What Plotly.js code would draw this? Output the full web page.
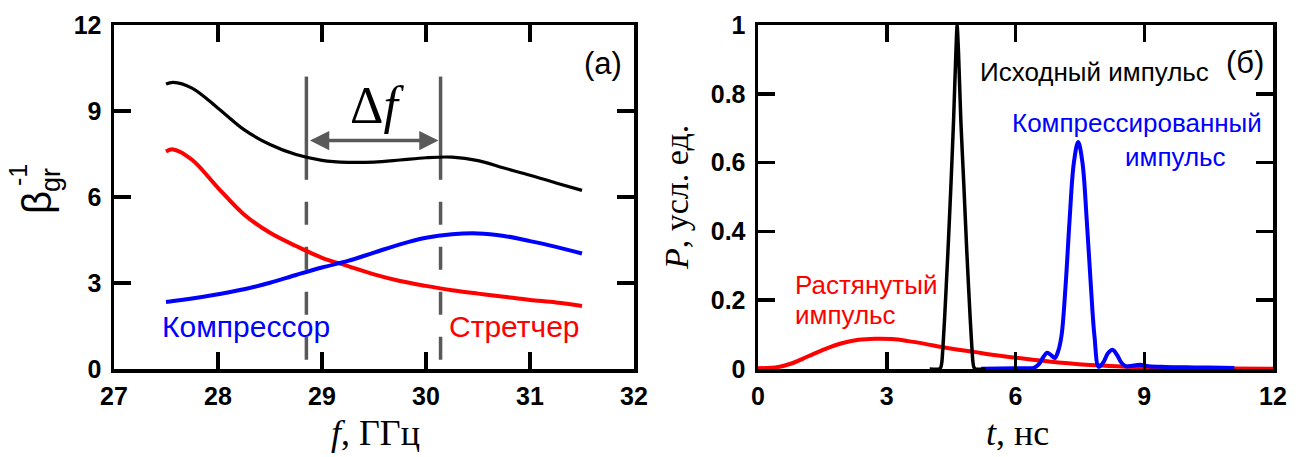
<!DOCTYPE html>
<html>
<head>
<meta charset="utf-8">
<script src="https://cdn.plot.ly/plotly-3.0.1.min.js"></script>
<style>html,body{margin:0;padding:0;background:#fff;}#chart{width:1310px;height:457px;}</style>
</head>
<body>
<div id="chart"></div>
<script>
// ---- Panel (a): inverse group velocity vs frequency ----
const freqGHz = [27.5, 27.57, 27.75, 28, 28.25, 28.5, 28.75, 29, 29.25, 29.5, 29.75, 30, 30.25, 30.5, 30.75, 31, 31.25, 31.5];
const betaTotal = [9.94, 10.0, 9.8, 9.1, 8.35, 7.83, 7.48, 7.28, 7.21, 7.22, 7.29, 7.37, 7.39, 7.27, 7.01, 6.76, 6.49, 6.23];
const betaStretcher = [7.59, 7.66, 7.3, 6.32, 5.39, 4.75, 4.29, 3.88, 3.59, 3.30, 3.07, 2.90, 2.75, 2.63, 2.52, 2.41, 2.32, 2.2];
const betaCompressor = [2.34, 2.37, 2.46, 2.61, 2.78, 3.01, 3.28, 3.54, 3.77, 4.06, 4.35, 4.58, 4.70, 4.73, 4.64, 4.46, 4.26, 4.03];
const bandEdges = [28.85, 30.14];          // Δf band edges, GHz
const bandSolidY = [10.2, 6.6];
const bandDashY = [5.83, 0.3];
const bandArrowY = 7.97;
const xTicksA = [27, 28, 29, 30, 31, 32];
const yTicksA = [0, 3, 6, 9, 12];

// ---- Panel (б): pulses vs time ----
const tStretched = [0, 0.47, 0.78, 1.17, 1.56, 1.95, 2.34, 2.73, 3.12, 3.5, 3.89, 4.28, 4.67, 5.06, 5.37, 6, 7, 8, 9, 10, 11, 12];
const pStretched = [0.002, 0.006, 0.016, 0.037, 0.058, 0.075, 0.085, 0.088, 0.087, 0.081, 0.073, 0.064, 0.056, 0.049, 0.043, 0.033, 0.019, 0.010, 0.005, 0.003, 0.0015, 0.0005];
const tInitial = [4.0, 4.22, 4.26, 4.284, 4.346, 4.424, 4.494, 4.556, 4.61, 4.64, 4.673, 4.727, 4.798, 4.867, 4.946, 5.008, 5.03, 5.07, 5.3];
const pInitial = [0, 0, 0.005, 0.02, 0.143, 0.337, 0.53, 0.72, 0.917, 1.0, 0.917, 0.72, 0.53, 0.337, 0.143, 0.02, 0.005, 0, 0];
const tCompressed = [5.2, 6.0, 6.3, 6.425, 6.55, 6.65, 6.737, 6.83, 6.916, 6.99, 7.07, 7.166, 7.26, 7.36, 7.46, 7.56, 7.66, 7.757, 7.84, 7.94, 8.05, 8.15, 8.26, 8.37, 8.47, 8.57, 8.75, 8.9, 9.1, 9.5, 10, 10.5, 11.1];
const pCompressed = [0.001, 0.002, 0.002, 0.003, 0.015, 0.035, 0.047, 0.04, 0.032, 0.05, 0.095, 0.24, 0.433, 0.6, 0.66, 0.6, 0.433, 0.24, 0.095, 0.006, 0.02, 0.045, 0.056, 0.04, 0.018, 0.008, 0.01, 0.012, 0.008, 0.006, 0.005, 0.004, 0.003];
const xTicksB = [0, 3, 6, 9, 12];
const yTicksB = [0, 0.2, 0.4, 0.6, 0.8, 1];
const yTickTextB = ['0', '0.2', '0.4', '0.6', '0.8', '1'];

const BLUE = '#0000ff', RED = '#ff0000', BLACK = '#000000', GREY = '#595959';
const sans = 'Liberation Sans, Arial, sans-serif';
const serif = 'Liberation Serif, Times New Roman, serif';
const bold = s => '<b>' + s + '</b>';

// band edge lines (solid upper part, dashed lower part)
const bandTraces = [];
bandEdges.forEach(fx => {
  bandTraces.push({x: [fx, fx], y: bandSolidY, xaxis: 'x', yaxis: 'y', mode: 'lines',
    line: {color: GREY, width: 3.5}, hoverinfo: 'skip', showlegend: false});
  bandTraces.push({x: [fx, fx], y: bandDashY, xaxis: 'x', yaxis: 'y', mode: 'lines',
    line: {color: GREY, width: 3.5, dash: '23px,22px'}, hoverinfo: 'skip', showlegend: false});
});

const data = [
  ...bandTraces,
  {x: freqGHz, y: betaTotal, xaxis: 'x', yaxis: 'y', mode: 'lines', line: {color: BLACK, width: 3.2, shape: 'spline'}, showlegend: false},
  {x: freqGHz, y: betaStretcher, xaxis: 'x', yaxis: 'y', mode: 'lines', line: {color: RED, width: 4, shape: 'spline'}, showlegend: false},
  {x: freqGHz, y: betaCompressor, xaxis: 'x', yaxis: 'y', mode: 'lines', line: {color: BLUE, width: 4, shape: 'spline'}, showlegend: false},
  {x: tStretched, y: pStretched, xaxis: 'x2', yaxis: 'y2', mode: 'lines', line: {color: RED, width: 4, shape: 'spline'}, showlegend: false},
  {x: tCompressed, y: pCompressed, xaxis: 'x2', yaxis: 'y2', mode: 'lines', line: {color: BLUE, width: 4, shape: 'spline'}, showlegend: false},
  {x: tInitial, y: pInitial, xaxis: 'x2', yaxis: 'y2', mode: 'lines', line: {color: BLACK, width: 3.5, shape: 'spline', smoothing: 0.6}, showlegend: false}
];

const tickFont = {family: sans, size: 25, color: '#000'};
const axisCommon = {
  showgrid: false, zeroline: false, showline: true, linecolor: '#000', linewidth: 3.5,
  mirror: 'allticks', ticks: 'inside', ticklen: 17, tickwidth: 3.5, tickcolor: '#000',
  tickfont: tickFont, fixedrange: true
};

const W = 1310, H = 457, L = 114, R = 37, T = 25, B = 88;
const PW = W - L - R, PH = H - T - B;
const px = v => (v - L) / PW;
const py = v => (H - B - v) / PH;

const layout = {
  width: W, height: H,
  margin: {l: L, r: R, t: T, b: B, pad: 0},
  paper_bgcolor: '#fff', plot_bgcolor: 'rgba(0,0,0,0)',
  showlegend: false,
  xaxis: Object.assign({}, axisCommon, {domain: [0, px(634)], range: [27, 32], tickvals: xTicksA, ticktext: xTicksA.map(v => bold(v)), anchor: 'y', ticklabelstandoff: 2}),
  yaxis: Object.assign({}, axisCommon, {domain: [0, 1], range: [0, 12], tickvals: yTicksA, ticktext: yTicksA.map(v => bold(v)), anchor: 'x', ticklabelstandoff: 4}),
  xaxis2: Object.assign({}, axisCommon, {domain: [px(758), 1], range: [0, 12], tickvals: xTicksB, ticktext: xTicksB.map(v => bold(v)), anchor: 'y2', ticklabelstandoff: 2}),
  yaxis2: Object.assign({}, axisCommon, {domain: [0, 1], range: [0, 1], tickvals: yTicksB, ticktext: yTickTextB.map(bold), anchor: 'x2', ticklabelstandoff: 4}),
  annotations: [
    // arrow across the band
    {xref: 'x', yref: 'y', axref: 'x', ayref: 'y', x: bandEdges[1] - 0.02, y: bandArrowY, ax: bandEdges[0] + 0.02, ay: bandArrowY,
     text: '', showarrow: true, arrowhead: 2, arrowside: 'end+start', arrowsize: 1.1, arrowwidth: 3.5, arrowcolor: GREY},
    {xref: 'x', yref: 'y', x: 29.53, y: 9.2, text: 'Δ<i>f</i>', showarrow: false, font: {family: serif, size: 52, color: '#000'}, xanchor: 'center', yanchor: 'middle'},
    {xref: 'x', yref: 'y', x: 27.44, y: 1.5, text: 'Компрессор', showarrow: false, font: {family: sans, size: 30, color: BLUE}, xanchor: 'left', yanchor: 'middle'},
    {xref: 'x', yref: 'y', x: 31.5, y: 1.5, text: 'Стретчер', showarrow: false, font: {family: sans, size: 30, color: RED}, xanchor: 'right', yanchor: 'middle'},
    {xref: 'x', yref: 'y', x: 31.9, y: 10.64, text: '(a)', showarrow: false, font: {family: sans, size: 31, color: '#000'}, xanchor: 'right', yanchor: 'middle'},
    // panel (б) labels
    {xref: 'x2', yref: 'y2', x: 5.13, y: 0.863, text: 'Исходный импульс', showarrow: false, font: {family: sans, size: 26, color: '#000'}, xanchor: 'left', yanchor: 'middle'},
    {xref: 'x2', yref: 'y2', x: 11.83, y: 0.89, text: '(б)', showarrow: false, font: {family: sans, size: 31, color: '#000'}, xanchor: 'right', yanchor: 'middle'},
    {xref: 'x2', yref: 'y2', x: 5.87, y: 0.715, text: 'Компрессированный', showarrow: false, font: {family: sans, size: 26, color: BLUE}, xanchor: 'left', yanchor: 'middle'},
    {xref: 'x2', yref: 'y2', x: 8.5, y: 0.616, text: 'импульс', showarrow: false, font: {family: sans, size: 26, color: BLUE}, xanchor: 'left', yanchor: 'middle'},
    {xref: 'x2', yref: 'y2', x: 0.82, y: 0.244, text: 'Растянутый', showarrow: false, font: {family: sans, size: 26, color: RED}, xanchor: 'left', yanchor: 'middle'},
    {xref: 'x2', yref: 'y2', x: 0.82, y: 0.157, text: 'импульс', showarrow: false, font: {family: sans, size: 26, color: RED}, xanchor: 'left', yanchor: 'middle'},
    // axis titles
    {xref: 'paper', yref: 'paper', x: px(375), y: py(433), text: '<i>f</i>, ГГц', showarrow: false, font: {family: serif, size: 36, color: '#000'}, xanchor: 'center', yanchor: 'middle'},
    {xref: 'paper', yref: 'paper', x: px(1017), y: py(433), text: '<i>t</i>, нс', showarrow: false, font: {family: serif, size: 36, color: '#000'}, xanchor: 'center', yanchor: 'middle'},
    {xref: 'paper', yref: 'paper', x: px(676), y: py(198), text: '<i>P</i>, усл. ед.', showarrow: false, textangle: -90, font: {family: serif, size: 34, color: '#000'}, xanchor: 'center', yanchor: 'middle'},
    {xref: 'paper', yref: 'paper', x: px(37), y: py(203), text: 'β', showarrow: false, textangle: -90, font: {family: sans, size: 40, color: '#000'}, xanchor: 'center', yanchor: 'middle'},
    {xref: 'paper', yref: 'paper', x: px(51), y: py(180), text: 'gr', showarrow: false, textangle: -90, font: {family: sans, size: 27, color: '#000'}, xanchor: 'center', yanchor: 'middle'},
    {xref: 'paper', yref: 'paper', x: px(18), y: py(175), text: '-1', showarrow: false, textangle: -90, font: {family: sans, size: 25, color: '#000'}, xanchor: 'center', yanchor: 'middle'}
  ]
};

Plotly.newPlot('chart', data, layout, {staticPlot: true, displayModeBar: false});
</script>
</body>
</html>
